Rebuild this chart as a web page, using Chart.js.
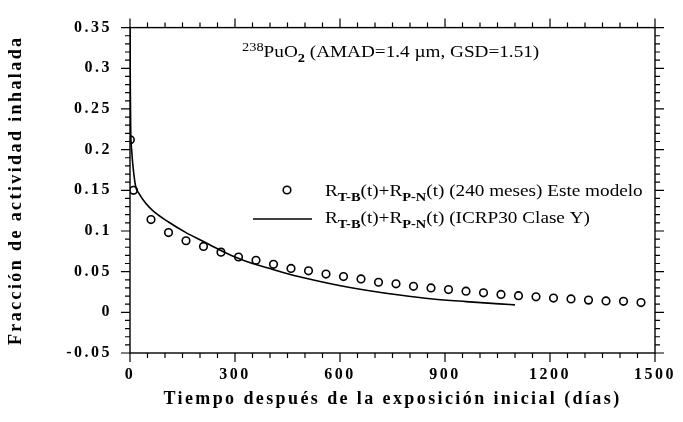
<!DOCTYPE html>
<html>
<head>
<meta charset="utf-8">
<script src="https://cdn.jsdelivr.net/npm/chart.js@4.4.1/dist/chart.umd.min.js"></script>
<style>
  html, body { margin: 0; padding: 0; background: #fff; }
  #wrap { width: 683px; height: 422px; }
</style>
</head>
<body>
<div id="wrap"><canvas id="retentionChart" width="683" height="422"></canvas></div>
<script>
// circles: R_T-B(t)+R_P-N(t) (240 meses) Este modelo
const modelDays = [1, 10, 60, 110, 160, 210, 260, 310, 360, 410, 460, 510, 560, 610, 660, 710, 760,
  810, 860, 910, 960, 1010, 1060, 1110, 1160, 1210, 1260, 1310, 1360, 1410, 1460];
const modelValues = [0.212, 0.150, 0.114, 0.098, 0.088, 0.081, 0.074, 0.068, 0.064, 0.059, 0.054, 0.051,
  0.047, 0.044, 0.041, 0.037, 0.035, 0.032, 0.030, 0.028, 0.026, 0.024, 0.022, 0.0205, 0.019, 0.0175,
  0.0165, 0.015, 0.014, 0.0135, 0.012];

// solid line: ICRP30 Clase Y
const icrpDays = [0, 1, 2, 3, 5, 8, 16, 26, 45, 65, 110, 160, 210, 255, 300, 350, 400, 445, 490,
  580, 675, 770, 865, 960, 1055, 1100];
const icrpValues = [0.35, 0.27, 0.225, 0.21, 0.198, 0.182, 0.155, 0.146, 0.134, 0.125, 0.111, 0.098,
  0.087, 0.077, 0.068, 0.060, 0.054, 0.048, 0.043, 0.0345, 0.0272, 0.0212, 0.0164, 0.0132, 0.0104, 0.0092];

const xTicks = [0, 300, 600, 900, 1200, 1500];
const yTicks = [-0.05, 0, 0.05, 0.1, 0.15, 0.2, 0.25, 0.3, 0.35];

const serif = "'Liberation Serif', 'Times New Roman', serif";

function toPoints(xs, ys) {
  return xs.map((x, i) => ({ x: x, y: ys[i] }));
}

// draws a run of text pieces with sub/superscripts, stretched a bit wide like the scan
function drawRich(ctx, x0, y, parts, size) {
  ctx.save();
  ctx.translate(x0, y);
  ctx.scale(1.2, 1);
  let x = 0;
  parts.forEach(p => {
    const small = Math.round(size * 0.72);
    let dy = 0;
    if (p[1] === 'sub') {
      ctx.font = 'bold ' + small + 'px ' + serif;
      dy = size * 0.3;
    } else if (p[1] === 'sup') {
      ctx.font = small + 'px ' + serif;
      dy = -size * 0.38;
    } else {
      ctx.font = size + 'px ' + serif;
    }
    ctx.fillText(p[0], x, dy);
    x += ctx.measureText(p[0]).width;
  });
  ctx.restore();
}

const spacingPlugin = {
  id: 'spacing',
  beforeDraw(chart) {
    chart.ctx.letterSpacing = '2.4px';
  },
  afterDatasetsDraw(chart) {
    chart.ctx.letterSpacing = '2.5px';
  },
  afterDraw(chart) {
    chart.ctx.letterSpacing = '0px';
  }
};

const framePlugin = {
  id: 'frame',
  afterDraw(chart) {
    const ctx = chart.ctx;
    const a = chart.chartArea;
    const xs = chart.scales.x;
    const ys = chart.scales.y;
    ctx.save();
    ctx.letterSpacing = '0px';
    ctx.strokeStyle = '#000';
    ctx.lineWidth = 1.4;
    ctx.strokeRect(a.left, a.top, a.right - a.left, a.bottom - a.top);

    ctx.lineWidth = 1.2;
    ctx.beginPath();
    for (let d = 0; d <= 1500; d += 50) {
      const px = xs.getPixelForValue(d);
      const len = d % 300 === 0 ? 9 : 5;
      ctx.moveTo(px, a.bottom); ctx.lineTo(px, a.bottom + len);
      ctx.moveTo(px, a.top); ctx.lineTo(px, a.top - len);
    }
    for (let k = -5; k <= 35; k++) {
      const py = ys.getPixelForValue(k / 100);
      const len = k % 5 === 0 ? 9 : 5;
      ctx.moveTo(a.left, py); ctx.lineTo(a.left - len, py);
      ctx.moveTo(a.right, py); ctx.lineTo(a.right + len, py);
    }
    ctx.stroke();

    // annotation
    ctx.fillStyle = '#000';
    ctx.textBaseline = 'alphabetic';
    drawRich(ctx, 242, 57, [['238', 'sup'], ['PuO', 'n'], ['2', 'sub'], [' (AMAD=1.4 \u00b5m, GSD=1.51)', 'n']], 16);

    // legend
    ctx.beginPath();
    ctx.arc(287, 190, 3.8, 0, Math.PI * 2);
    ctx.lineWidth = 1.6;
    ctx.stroke();
    ctx.beginPath();
    ctx.moveTo(253, 219); ctx.lineTo(312, 219);
    ctx.lineWidth = 1.6;
    ctx.stroke();
    drawRich(ctx, 325, 196, [['R', 'n'], ['T-B', 'sub'], ['(t)+R', 'n'], ['P-N', 'sub'], ['(t) (240 meses) Este modelo', 'n']], 16);
    drawRich(ctx, 325, 223, [['R', 'n'], ['T-B', 'sub'], ['(t)+R', 'n'], ['P-N', 'sub'], ['(t) (ICRP30 Clase Y)', 'n']], 16);
    ctx.restore();
  }
};

const ctx = document.getElementById('retentionChart').getContext('2d');

new Chart(ctx, {
  type: 'scatter',
  data: {
    datasets: [
      {
        label: 'R_T-B(t)+R_P-N(t) (240 meses) Este modelo',
        data: toPoints(modelDays, modelValues),
        showLine: false,
        pointStyle: 'circle',
        pointRadius: 3.8,
        pointBorderWidth: 1.6,
        pointBorderColor: '#000',
        pointBackgroundColor: 'rgba(0,0,0,0)'
      },
      {
        label: 'R_T-B(t)+R_P-N(t) (ICRP30 Clase Y)',
        data: toPoints(icrpDays, icrpValues),
        showLine: true,
        borderColor: '#000',
        borderWidth: 1.6,
        pointRadius: 0,
        cubicInterpolationMode: 'monotone'
      }
    ]
  },
  options: {
    responsive: false,
    animation: false,
    layout: { padding: { top: 19, right: 26, bottom: 0, left: 0 } },
    plugins: {
      legend: { display: false },
      tooltip: { enabled: false }
    },
    scales: {
      x: {
        type: 'linear',
        min: 0,
        max: 1500,
        afterFit: s => { s.height = 69; },
        afterBuildTicks: s => { s.ticks = xTicks.map(v => ({ value: v })); },
        grid: { display: false, drawTicks: false },
        border: { display: false },
        ticks: {
          z: 1,
          padding: 12,
          color: '#000',
          font: { family: serif, size: 16, weight: 'bold' },
          callback: v => String(v)
        },
        title: {
          display: true,
          text: 'Tiempo después de la exposición inicial (días)',
          color: '#000',
          font: { family: serif, size: 18, weight: 'bold' },
          padding: { top: 0, bottom: 12 }
        }
      },
      y: {
        min: -0.05,
        max: 0.35,
        afterFit: s => { s.width = 130; },
        afterBuildTicks: s => { s.ticks = yTicks.map(v => ({ value: v })); },
        grid: { display: false, drawTicks: false },
        border: { display: false },
        ticks: {
          z: 1,
          padding: 18,
          color: '#000',
          font: { family: serif, size: 16, weight: 'bold' },
          callback: v => String(Math.round(v * 100) / 100)
        },
        title: {
          display: true,
          text: 'Fracción de actividad inhalada',
          color: '#000',
          font: { family: serif, size: 18, weight: 'bold' },
          padding: { top: 6, bottom: 0 }
        }
      }
    }
  },
  plugins: [spacingPlugin, framePlugin]
});
</script>
</body>
</html>
